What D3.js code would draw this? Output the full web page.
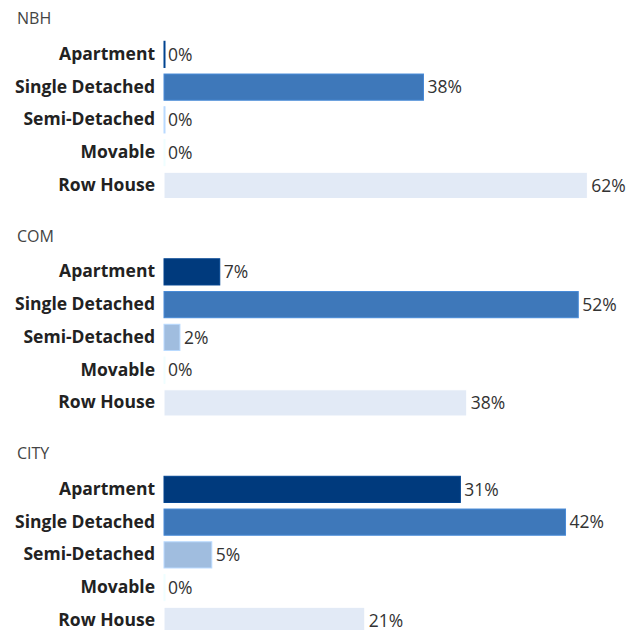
<!DOCTYPE html>
<html lang="en">
  <head>
    <meta charset="UTF-8" />
    <title>Dwelling types</title>
    <script src="https://cdn.jsdelivr.net/npm/d3@7"></script>
    <style>
      body { margin: 0; background: #fff; }
      #svgBox { width: 642px; height: 630px; display: block; }
      text { font-family: 'Open Sans', sans-serif; }
    </style>
  </head>
  <body>
    <svg id="svgBox"></svg>
  </body>
  <script>
    // data
    const areas = ['NBH', 'COM', 'CITY']
    const types = ['Apartment', 'Single Detached', 'Semi-Detached', 'Movable', 'Row House']
    const nbhValues = [0, 38, 0, 0, 62]
    const comValues = [7, 52, 2, 0, 38]
    const cityValues = [31, 42, 5, 0, 21]
    const typeColors = ['#003a7d', '#3e78ba', '#a0bddf', '#cfdcee', '#e2eaf6']

    const seriesByArea = [nbhValues, comValues, cityValues]

    const svg = d3.select('#svgBox')
    const margin = { top: 0, left: 164 }
    const panelHeight = 217.5
    const barRange = 478
    const rowTop = 38
    const rowStep = 32.75

    const color = d3.scaleOrdinal().domain(types).range(typeColors)

    areas.forEach((area, i) => {
      const values = seriesByArea[i]
      const rows = types.map((t, j) => ({ name: t, value: values[j] }))
      const g = svg.append('g')
        .attr('transform', `translate(0 ${margin.top + i * panelHeight})`)

      g.append('text')
        .attr('x', 17)
        .attr('y', 24)
        .attr('fill', '#444')
        .style('font-size', '16px')
        .text(area)

      // x scale: per-panel domain with room for the value label
      const xScale = d3.scaleLinear()
        .domain([0, d3.max(values) + 8])
        .range([0, barRange])
      const yScale = d3.scaleBand()
        .domain(types)
        .range([rowTop, rowTop + rowStep * types.length])
        .paddingInner(0.2)
        .paddingOuter(0.1)

      const plot = g.append('g').attr('transform', `translate(${margin.left} 0)`)

      const yAxis = d3.axisLeft(yScale).tickSize(0).tickPadding(9)
      const ax = plot.append('g').call(yAxis)
      ax.select('.domain').remove()
      ax.selectAll('text')
        .attr('fill', '#222')
        .style('font-size', '17.5px')
        .style('font-weight', 'bold')
        .style('font-family', "'Open Sans', sans-serif")

      plot.selectAll('rect.bar')
        .data(rows)
        .join('rect')
        .attr('class', 'bar')
        .attr('x', 0)
        .attr('y', d => yScale(d.name))
        .attr('width', d => Math.max(xScale(d.value), 1))
        .attr('height', yScale.bandwidth())
        .attr('fill', d => color(d.name))
        .attr('stroke', d => d3.color(color(d.name)).brighter(0.4))
        .attr('stroke-width', 1)

      plot.selectAll('text.val')
        .data(rows)
        .join('text')
        .attr('class', 'val')
        .attr('x', d => xScale(d.value) + 4)
        .attr('y', d => yScale(d.name) + yScale.bandwidth() / 2)
        .attr('dy', '0.35em')
        .attr('fill', '#333')
        .style('font-size', '17.5px')
        .text(d => d.value + '%')
    })
  </script>
</html>
